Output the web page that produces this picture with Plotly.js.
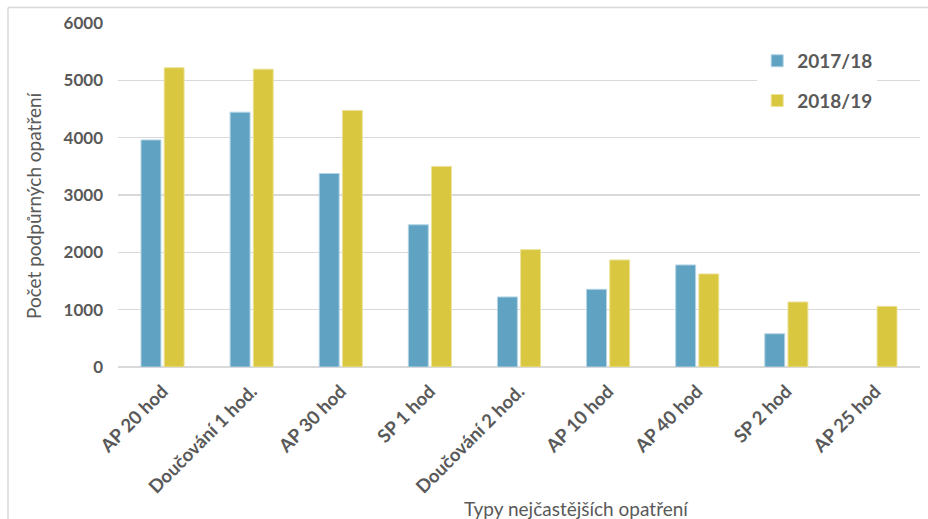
<!DOCTYPE html>
<html>
<head>
<meta charset="utf-8">
<script src="https://cdn.plot.ly/plotly-3.0.1.min.js"></script>
<style>
  html, body { margin: 0; padding: 0; background: #ffffff; }
  #chart { width: 928px; height: 519px; }
</style>
</head>
<body>
<div id="chart"></div>
<script>
// Types of support measures (categories on the x axis)
const categories = [
  "AP 20 hod", "Doučování 1 hod.", "AP 30 hod", "SP 1 hod",
  "Doučování 2 hod.", "AP 10 hod", "AP 40 hod", "SP 2 hod", "AP 25 hod"
];

// Number of measures per school year
const seriesNames = ["2017/18", "2018/19"];
const values2017 = [3960, 4445, 3375, 2480, 1222, 1355, 1780, 580, null];
const values2018 = [5220, 5195, 4475, 3498, 2047, 1867, 1623, 1134, 1058];

// Y axis ticks
const yTicks = [0, 1000, 2000, 3000, 4000, 5000, 6000];

const FONT = "Lato, 'Open Sans', sans-serif";
const TEXT_GREY = "#595959";
const GRID = "#d9d9d9";

const traces = [
  {
    type: "bar",
    name: seriesNames[0],
    x: categories,
    y: values2017,
    legendgroup: "a",
    marker: { color: "#5fa2c2", line: { color: "#b3d4e4", width: 1 } },
    hoverinfo: "x+y+name"
  },
  {
    type: "bar",
    name: seriesNames[1],
    x: categories,
    y: values2018,
    legendgroup: "b",
    marker: { color: "#d9c73f", line: { color: "#ece29a", width: 1 } },
    hoverinfo: "x+y+name"
  }
];

const layout = {
  width: 928,
  height: 519,
  margin: { l: 118, r: 8, t: 23, b: 152 },
  paper_bgcolor: "#ffffff",
  plot_bgcolor: "#ffffff",
  font: { family: FONT, color: TEXT_GREY },
  barmode: "group",
  bargap: 0.48,
  bargroupgap: 0.14,
  showlegend: true,
  legend: {
    x: 0.797,
    y: 0.945,
    xanchor: "left",
    yanchor: "top",
    bgcolor: "#ffffff",
    traceorder: "grouped",
    tracegroupgap: 12,
    font: { family: FONT, size: 19, color: TEXT_GREY, weight: "bold" },
    itemwidth: 30
  },
  xaxis: {
    type: "category",
    tickangle: -45,
    showgrid: false,
    showline: false,
    ticks: "",
    ticklabelstandoff: 9,
    tickfont: { family: FONT, size: 18.5, color: TEXT_GREY, weight: "bold" },
    automargin: false
  },
  yaxis: {
    range: [0, 6000],
    tickvals: yTicks,
    ticktext: yTicks.map(String),
    showgrid: true,
    gridcolor: GRID,
    gridwidth: 1.5,
    zeroline: true,
    zerolinecolor: GRID,
    zerolinewidth: 1.5,
    showline: false,
    ticks: "",
    ticklabelstandoff: 14,
    tickfont: { family: FONT, size: 17, color: TEXT_GREY, weight: "bold" },
    automargin: false
  },
  annotations: [
    {
      // y axis title
      text: "Počet podpůrných opatření",
      xref: "paper",
      yref: "paper",
      x: -85 / 802,
      y: (366.5 - 205) / 343,
      xanchor: "center",
      yanchor: "middle",
      textangle: -90,
      showarrow: false,
      font: { family: FONT, size: 19, color: TEXT_GREY }
    },
    {
      // x axis title
      text: "Typy nejčastějších opatření",
      xref: "paper",
      yref: "paper",
      x: 0.572,
      y: -0.41,
      xanchor: "center",
      yanchor: "middle",
      showarrow: false,
      font: { family: FONT, size: 19, color: TEXT_GREY }
    }
  ],
  shapes: [
    // chart frame (left and top edges)
    {
      type: "line", xref: "paper", yref: "paper",
      x0: -110 / 802, x1: -110 / 802, y0: 1 + 15.5 / 343, y1: -0.5,
      line: { color: "#d9d9d9", width: 1.5 }
    },
    {
      type: "line", xref: "paper", yref: "paper",
      x0: -110 / 802, x1: 1.02, y0: 1 + 15.5 / 343, y1: 1 + 15.5 / 343,
      line: { color: "#d9d9d9", width: 1.5 }
    }
  ]
};

Plotly.newPlot("chart", traces, layout, { displayModeBar: false, staticPlot: true });
</script>
</body>
</html>
